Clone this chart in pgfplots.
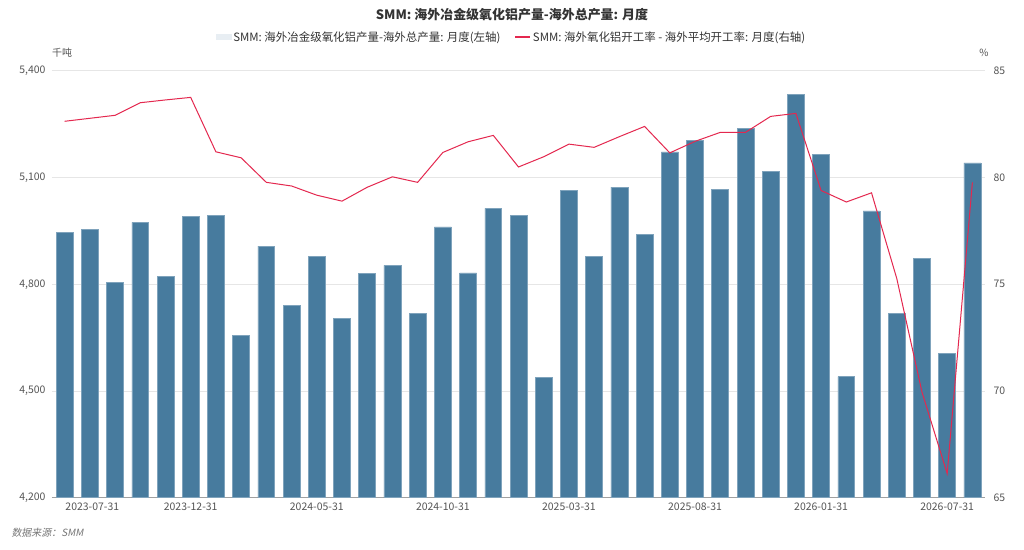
\documentclass[border=0pt]{standalone}
\usepackage{pgfplots}
\usepackage{pgfplotstable}
\pgfplotsset{compat=1.18}
\usepackage{fontspec}
\setmainfont{Noto Sans CJK SC}
\newfontfamily\cjkit[FakeSlant=0.2]{Noto Sans CJK SC}
\definecolor{barblue}{HTML}{477B9E}
\definecolor{baredge}{HTML}{7FA3BC}
\definecolor{linered}{HTML}{E4284F}
\definecolor{legendfill}{HTML}{E8EEF3}
\definecolor{gridgray}{HTML}{E6E6E6}
\definecolor{axisgray}{HTML}{A0A0A0}
\definecolor{labelgray}{HTML}{555555}
\definecolor{titlegray}{HTML}{333333}

\pgfplotstableread{
idx val
0 4946
1 4955
2 4804
3 4974
4 4822
5 4990
6 4993
7 4657
8 4907
9 4740
10 4877
11 4705
12 4830
13 4853
14 4717
15 4961
16 4832
17 5013
18 4994
19 4538
20 5064
21 4878
22 5073
23 4939
24 5172
25 5203
26 5067
27 5238
28 5117
29 5334
30 5165
31 4540
32 5006
33 4718
34 4873
35 4605
36 5141
}\bartable

\pgfplotstableread{
idx val
0 82.63
1 82.77
2 82.91
3 83.50
4 83.63
5 83.75
6 81.20
7 80.92
8 79.77
9 79.60
10 79.17
11 78.89
12 79.54
13 80.03
14 79.77
15 81.17
16 81.67
17 81.97
18 80.49
19 80.97
20 81.56
21 81.41
22 81.91
23 82.39
24 81.15
25 81.69
26 82.11
27 82.11
28 82.86
29 83.00
30 79.39
31 78.85
32 79.28
33 75.27
34 69.95
35 66.13
36 79.77
}\linetable

\begin{document}
\begin{tikzpicture}
\fill[white] (0bp,0bp) rectangle (1024bp,550bp);

\begin{axis}[
  at={(52bp,52.3bp)}, anchor=south west,
  scale only axis, width=933bp, height=427bp,
  xmin=-0.5, xmax=36.5, ymin=4200, ymax=5400,
  ytick={4200,4500,4800,5100,5400},
  axis y line*=left, axis x line*=bottom,
  y axis line style={draw=none},
  x axis line style={draw=axisgray, line width=0.8bp, -},
  ymajorgrids, grid style={draw=gridgray, line width=0.8bp},
  major tick length=0pt,
  xtick={1.1,5,10,15,20,25,30,35},
  xticklabels={2023-07-31,2023-12-31,2024-05-31,2024-10-31,2025-03-31,2025-08-31,2026-01-31,2026-07-31},
  xticklabel style={font=\fontsize{10.5}{12}\selectfont, text=labelgray, yshift=-2bp},
  yticklabel style={font=\fontsize{10.5}{12}\selectfont, text=labelgray, xshift=-3bp},
  /pgf/number format/assume math mode=true,
  /pgf/number format/1000 sep={,},
  legend style={at={(0.4925,1.079)}, anchor=center, draw=none, fill=none,
    legend columns=2, font=\fontsize{11.5}{13}\selectfont, text=titlegray,
    /tikz/every even column/.append style={column sep=12bp}},
]
\addplot[ybar, bar width=0.67, bar shift=0pt, fill=barblue, draw=baredge, line width=0.6bp,
  legend image code/.code={\fill[legendfill] (0bp,-2.5bp) rectangle (15bp,2.5bp);}]
  table[x=idx, y=val] {\bartable};
\addlegendentry{SMM: 海外冶金级氧化铝产量-海外总产量: 月度(左轴)}
\addlegendimage{legend image code/.code={\draw[linered, line width=1.5bp] (0bp,0bp)--(15bp,0bp);}}
\addlegendentry{SMM: 海外氧化铝开工率 - 海外平均开工率: 月度(右轴)}
\end{axis}

\begin{axis}[
  at={(52bp,52.3bp)}, anchor=south west,
  scale only axis, width=933bp, height=427bp,
  xmin=-0.5, xmax=36.5, ymin=65, ymax=85,
  ytick={65,70,75,80,85},
  axis y line*=right, axis x line=none,
  y axis line style={draw=none},
  major tick length=0pt,
  xtick=\empty,
  yticklabel style={font=\fontsize{10.5}{12}\selectfont, text=labelgray, xshift=5bp},
  /pgf/number format/assume math mode=true,
]
\addplot[linered, line width=1bp, mark=none] table[x=idx, y=val] {\linetable};
\end{axis}

\node[font=\fontsize{13}{15}\selectfont\bfseries, text=titlegray] at (512bp,535bp) {SMM: 海外冶金级氧化铝产量-海外总产量: 月度};
\node[font=\fontsize{10}{12}\selectfont, text=labelgray] at (62bp,497bp) {千吨};
\node[font=\fontsize{10}{12}\selectfont, text=labelgray] at (984bp,497bp) {\%};
\node[font=\fontsize{10}{12}\selectfont\cjkit, text=labelgray!80, anchor=west] at (8bp,17bp) {数据来源：SMM};
\end{tikzpicture}
\end{document}
